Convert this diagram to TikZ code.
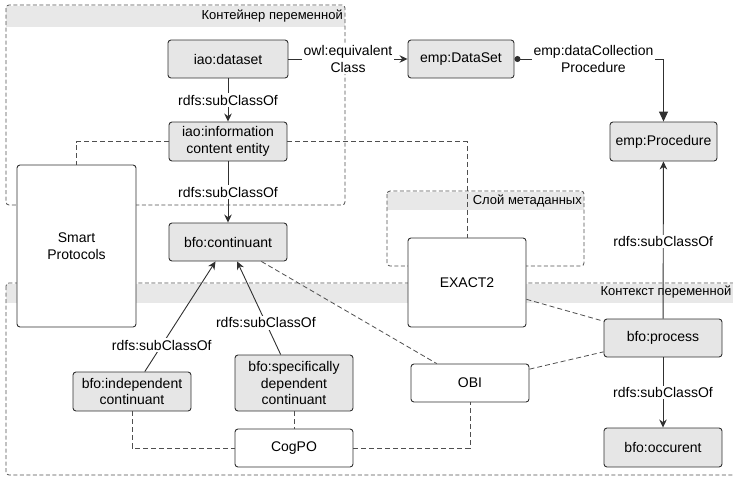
\documentclass[tikz,border=0pt]{standalone}
\usepackage{fontspec}
\setmainfont{Liberation Sans}
\usetikzlibrary{arrows.meta}
\definecolor{edgecol}{HTML}{303030}
\definecolor{boxfill}{HTML}{E6E6E6}
\definecolor{bandfill}{HTML}{E8E8E8}
\tikzset{
  txt/.style={font=\fontsize{14}{16.5}\selectfont},
  onto/.style={draw=edgecol, line width=0.9pt, rounded corners=3pt, align=center,
    inner sep=0pt, txt, fill=boxfill},
  tool/.style={onto, fill=white},
  lbl/.style={fill=white, inner sep=1.5pt, align=center, txt},
  sub/.style={draw=edgecol, line width=0.9pt, -{Stealth[length=8pt,width=7.5pt]}},
  link/.style={draw=edgecol!85, line width=0.8pt, dash pattern=on 5pt off 3pt},
  frame/.style={draw=edgecol!85, line width=0.8pt, dash pattern=on 4pt off 2.5pt, rounded corners=3pt},
  hdr/.style={font=\fontsize{13}{15}\selectfont, inner sep=1pt, anchor=east},
}
\begin{document}
\begin{tikzpicture}[x=1pt,y=-1pt]
\useasboundingbox (0,0) rectangle (733,477);

% grouping frames with shaded header bands
\fill[bandfill] (6,6) rectangle (345,27);
\draw[frame] (6,5) rectangle (345,205);
\node[hdr] (hvar) at (344,16) {Контейнер переменной};

\fill[bandfill] (387,192) rectangle (584,210);
\draw[frame] (387,191) rectangle (584,266);
\node[hdr] (hmeta) at (583,200.5) {Слой метаданных};

\fill[bandfill] (6,284) rectangle (760,303);
\draw[frame] (6,283) rectangle (760,475);
\node[hdr] (hctx) at (732.5,292.5) {Контекст переменной};

% ontology classes
\node[onto, minimum width=120pt, minimum height=38pt] (dataset) at (228,59) {iao:dataset};
\node[onto, minimum width=118pt, minimum height=39pt] (ice) at (228,141.5) {iao:information\\content entity};
\node[onto, minimum width=118pt, minimum height=38pt] (cont) at (228,242) {bfo:continuant};
\node[onto, minimum width=106pt, minimum height=38pt] (empds) at (461,59) {emp:DataSet};
\node[onto, minimum width=107pt, minimum height=39pt] (proc) at (663.5,141.5) {emp:Procedure};
\node[onto, minimum width=118pt, minimum height=38pt] (process) at (663,338) {bfo:process};
\node[onto, minimum width=118pt, minimum height=39pt] (occ) at (663,447.5) {bfo:occurent};
\node[onto, minimum width=118pt, minimum height=39pt] (ind) at (132,391.5) {bfo:independent\\continuant};
\node[onto, minimum width=118pt, minimum height=56pt] (spec) at (294,383) {bfo:specifically\\dependent\\continuant};

% tools and ontologies
\node[tool, minimum width=119pt, minimum height=162pt] (sp) at (76.5,246) {Smart\\Protocols};
\node[tool, minimum width=118pt, minimum height=89pt] (exact) at (467,282.5) {EXACT2};
\node[tool, minimum width=118pt, minimum height=38pt] (obi) at (470,383) {OBI};
\node[tool, minimum width=118pt, minimum height=38pt] (cogpo) at (294,448) {CogPO};

% usage links
\draw[link] (ice.west) -| (sp.north);
\draw[link] (ice.east) -| (exact.north);
\draw[link] (cont) -- (obi);
\draw[link] (exact) -- (process);
\draw[link] (obi) -- (process);
\draw[link] (ind.south) |- (cogpo.west);
\draw[link] (spec) -- (cogpo);
\draw[link] (cogpo.east) -| (obi.south);

% class relations
\draw[sub] (dataset) -- node[lbl] {owl:equivalent\\Class} (empds);
\draw[draw=edgecol, line width=0.9pt, {Circle[length=6pt,width=6pt]}-{Triangle[length=10pt,width=9pt]}]
  (empds.east) -| node[lbl, pos=0.265] {emp:dataCollection\\Procedure} (proc.north);
\draw[sub] (dataset) -- node[lbl] {rdfs:subClassOf} (ice);
\draw[sub] (ice) -- node[lbl] {rdfs:subClassOf} (cont);
\draw[sub] (process) -- node[lbl, pos=0.49] {rdfs:subClassOf} (proc);
\draw[sub] (process) -- node[lbl] {rdfs:subClassOf} (occ);
\draw[sub] (ind) -- node[lbl, pos=0.24] {rdfs:subClassOf} (cont);
\draw[sub] (spec) -- node[lbl, pos=0.34] {rdfs:subClassOf} (cont);
\end{tikzpicture}
\end{document}
